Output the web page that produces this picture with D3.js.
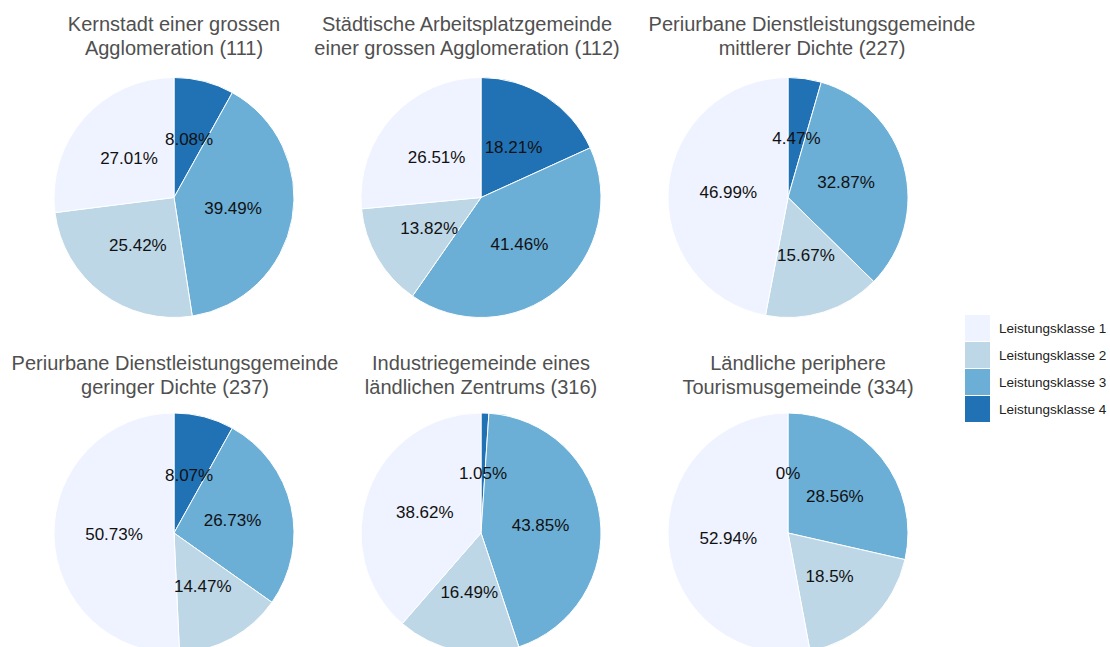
<!DOCTYPE html>
<html>
<head>
<meta charset="utf-8">
<script src="https://cdn.jsdelivr.net/npm/d3@7"></script>
<style>
  body { margin: 0; background: #fff; }
  text { font-family: "Liberation Sans", Arial, sans-serif; }
</style>
</head>
<body>
<div id="chart-area"></div>
<script>
const width = 1110
const height = 647

// data
const classes = ['Leistungsklasse 1', 'Leistungsklasse 2', 'Leistungsklasse 3', 'Leistungsklasse 4']
const titles = [
  ['Kernstadt einer grossen', 'Agglomeration (111)'],
  ['Städtische Arbeitsplatzgemeinde', 'einer grossen Agglomeration (112)'],
  ['Periurbane Dienstleistungsgemeinde', 'mittlerer Dichte (227)'],
  ['Periurbane Dienstleistungsgemeinde', 'geringer Dichte (237)'],
  ['Industriegemeinde eines', 'ländlichen Zentrums (316)'],
  ['Ländliche periphere', 'Tourismusgemeinde (334)']
]
// shares per class (1..4) for each municipality type
const klasse1 = [27.01, 26.51, 46.99, 50.73, 38.62, 52.94]
const klasse2 = [25.42, 13.82, 15.67, 14.47, 16.49, 18.5]
const klasse3 = [39.49, 41.46, 32.87, 26.73, 43.85, 28.56]
const klasse4 = [8.08, 18.21, 4.47, 8.07, 1.05, 0]

const colors = ['#eff3ff', '#bdd7e7', '#6baed6', '#2171b5']

// layout
const radius = 120
const pieX = [174, 481, 788]
const pieY = [197.5, 533]
const titleX = [174, 467, 812, 175, 481, 798]
const titleY = [31, 370]

const svg = d3.select('#chart-area')
  .append('svg')
    .attr('width', width)
    .attr('height', height)

const color = d3.scaleOrdinal().domain(classes).range(colors)

// slices go clockwise from 12 o'clock: class 4, 3, 2, 1
const pie = d3.pie()
  .sort(null)
  .value(d => d.value)

const arc = d3.arc().innerRadius(0).outerRadius(radius)

titles.forEach((t, i) => {
  const cx = pieX[i % 3]
  const cy = pieY[Math.floor(i / 3)]
  const values = [
    {name: classes[3], value: klasse4[i]},
    {name: classes[2], value: klasse3[i]},
    {name: classes[1], value: klasse2[i]},
    {name: classes[0], value: klasse1[i]}
  ]

  const g = svg.append('g')
    .attr('transform', `translate(${cx},${cy})`)

  const arcs = pie(values)

  g.selectAll('path')
    .data(arcs)
    .enter()
    .append('path')
      .attr('d', arc)
      .attr('fill', d => color(d.data.name))
      .attr('stroke', '#fff')
      .attr('stroke-width', 1)

  g.selectAll('text')
    .data(arcs)
    .enter()
    .append('text')
      .attr('transform', d => `translate(${arc.centroid(d)})`)
      .attr('text-anchor', 'middle')
      .attr('dy', '0.35em')
      .attr('font-size', '17px')
      .attr('fill', '#111')
      .text(d => d.data.value + '%')

  const title = svg.append('text')
    .attr('x', titleX[i])
    .attr('y', titleY[Math.floor(i / 3)])
    .attr('text-anchor', 'middle')
    .attr('font-size', '20px')
    .attr('fill', '#505050')
  t.forEach((line, j) => {
    title.append('tspan')
      .attr('x', titleX[i])
      .attr('dy', j === 0 ? 0 : 24)
      .text(line)
  })
})

// legend
const legend = svg.append('g')
  .attr('transform', 'translate(965,315)')

const items = legend.selectAll('g')
  .data(classes)
  .enter()
  .append('g')
    .attr('transform', (d, i) => `translate(0,${i * 27})`)

items.append('rect')
  .attr('width', 25)
  .attr('height', 26)
  .attr('fill', d => color(d))

items.append('text')
  .attr('x', 34)
  .attr('y', 13)
  .attr('dy', '0.35em')
  .attr('font-size', '13.5px')
  .attr('fill', '#222')
  .text(d => d)
</script>
</body>
</html>
